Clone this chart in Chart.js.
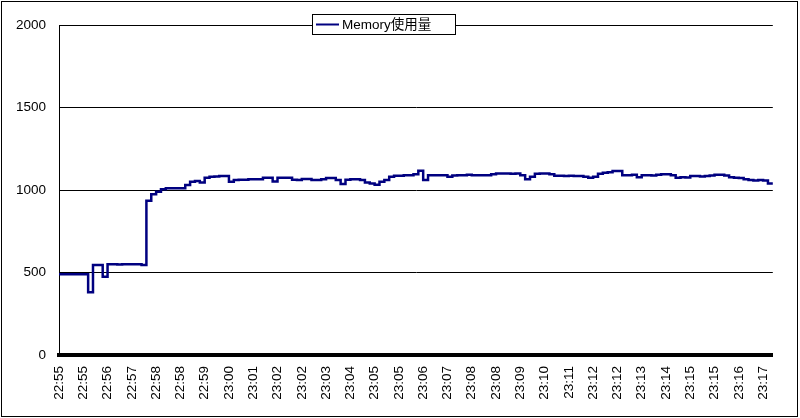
<!DOCTYPE html>
<html>
<head>
<meta charset="utf-8">
<script src="https://cdn.jsdelivr.net/npm/chart.js@4"></script>
<style>
  body { margin: 0; background: #fff; }
  canvas { display: block; }
</style>
</head>
<body>
<canvas id="memChart" width="800" height="418"></canvas>
<script>
// tick labels shown every 5 samples
const tickLabels = ["22:55", "22:55", "22:56", "22:57", "22:58", "22:58", "22:59", "23:00", "23:01", "23:02",
    "23:02", "23:03", "23:04", "23:05", "23:05", "23:06", "23:07", "23:08", "23:08", "23:09",
    "23:10", "23:11", "23:12", "23:12", "23:13", "23:14", "23:15", "23:15", "23:16", "23:17"];
const labelStep = 5;

// Memory使用量 samples
const memoryValues = [
    490, 490, 490, 490, 490, 490, 380, 545, 545, 475,
    550, 550, 548, 550, 550, 550, 550, 545, 935, 975,
    990, 1005, 1010, 1010, 1010, 1010, 1030, 1050, 1055, 1045,
    1075, 1080, 1082, 1085, 1085, 1050, 1060, 1062, 1062, 1065,
    1065, 1065, 1075, 1075, 1052, 1075, 1075, 1075, 1062, 1060,
    1067, 1067, 1060, 1060, 1065, 1072, 1072, 1060, 1036, 1062,
    1065, 1065, 1060, 1045, 1040, 1032, 1050, 1060, 1080, 1087,
    1087, 1090, 1090, 1095, 1117, 1060, 1090, 1090, 1090, 1090,
    1080, 1088, 1090, 1090, 1092, 1090, 1090, 1090, 1090, 1095,
    1100, 1100, 1100, 1098, 1100, 1090, 1065, 1080, 1098, 1100,
    1100, 1095, 1087, 1087, 1085, 1087, 1085, 1085, 1080, 1075,
    1080, 1098, 1105, 1108, 1115, 1115, 1090, 1090, 1092, 1078,
    1090, 1090, 1088, 1092, 1095, 1095, 1090, 1075, 1078, 1076,
    1085, 1085, 1082, 1085, 1088, 1092, 1093, 1088, 1078, 1075,
    1072, 1065, 1060, 1058, 1060, 1058, 1040, 1040
];

const labels = memoryValues.map((v, i) => i % labelStep === 0 ? (tickLabels[i / labelStep] || "") : "");

const navy = "#000080";
const font = { family: "'Liberation Sans', Arial, sans-serif", size: 13.5 };

// Excel style frame + legend box
const frame = {
    id: "frame",
    afterDraw(chart) {
        const c = chart.ctx;
        c.save();
        c.strokeStyle = "#000";
        c.lineWidth = 1;
        c.strokeRect(1.5, 1.5, 796, 415);

        c.fillStyle = "#fff";
        c.fillRect(312, 14, 144, 20);
        c.strokeRect(312.5, 14.5, 143, 20);
        c.strokeStyle = navy;
        c.lineWidth = 2;
        c.beginPath();
        c.moveTo(316, 24.5);
        c.lineTo(339, 24.5);
        c.stroke();
        c.fillStyle = "#000";
        c.font = "13.5px 'Liberation Sans', 'Noto Sans CJK JP', sans-serif";
        c.textBaseline = "middle";
        c.fillText("Memory使用量", 342, 25);
        c.restore();
    }
};

new Chart(document.getElementById("memChart"), {
    type: "line",
    data: {
        labels: labels,
        datasets: [{
            label: "Memory使用量",
            data: memoryValues,
            borderColor: navy,
            borderWidth: 2.5,
            pointRadius: 0,
            stepped: true,
            fill: false
        }]
    },
    options: {
        responsive: false,
        animation: false,
        devicePixelRatio: 1,
        layout: { padding: { left: 0, top: 25, right: 27, bottom: 0 } },
        plugins: { legend: { display: false }, tooltip: { enabled: false } },
        scales: {
            x: {
                offset: false,
                grid: { display: false, drawTicks: false },
                border: { display: true, color: "#000", width: 4 },
                ticks: {
                    autoSkip: false,
                    minRotation: 90,
                    maxRotation: 90,
                    padding: 11,
                    color: "#000",
                    font: font
                },
                afterFit(scale) { scale.height = 63; }
            },
            y: {
                min: 0,
                max: 2000,
                ticks: {
                    stepSize: 500,
                    padding: 13,
                    color: "#000",
                    font: font,
                    callback: v => String(v)
                },
                grid: { color: "#000", lineWidth: 1, drawTicks: false },
                border: { display: true, color: "#000", width: 1 },
                afterFit(scale) { scale.width = 59; }
            }
        }
    },
    plugins: [frame]
});
</script>
</body>
</html>
